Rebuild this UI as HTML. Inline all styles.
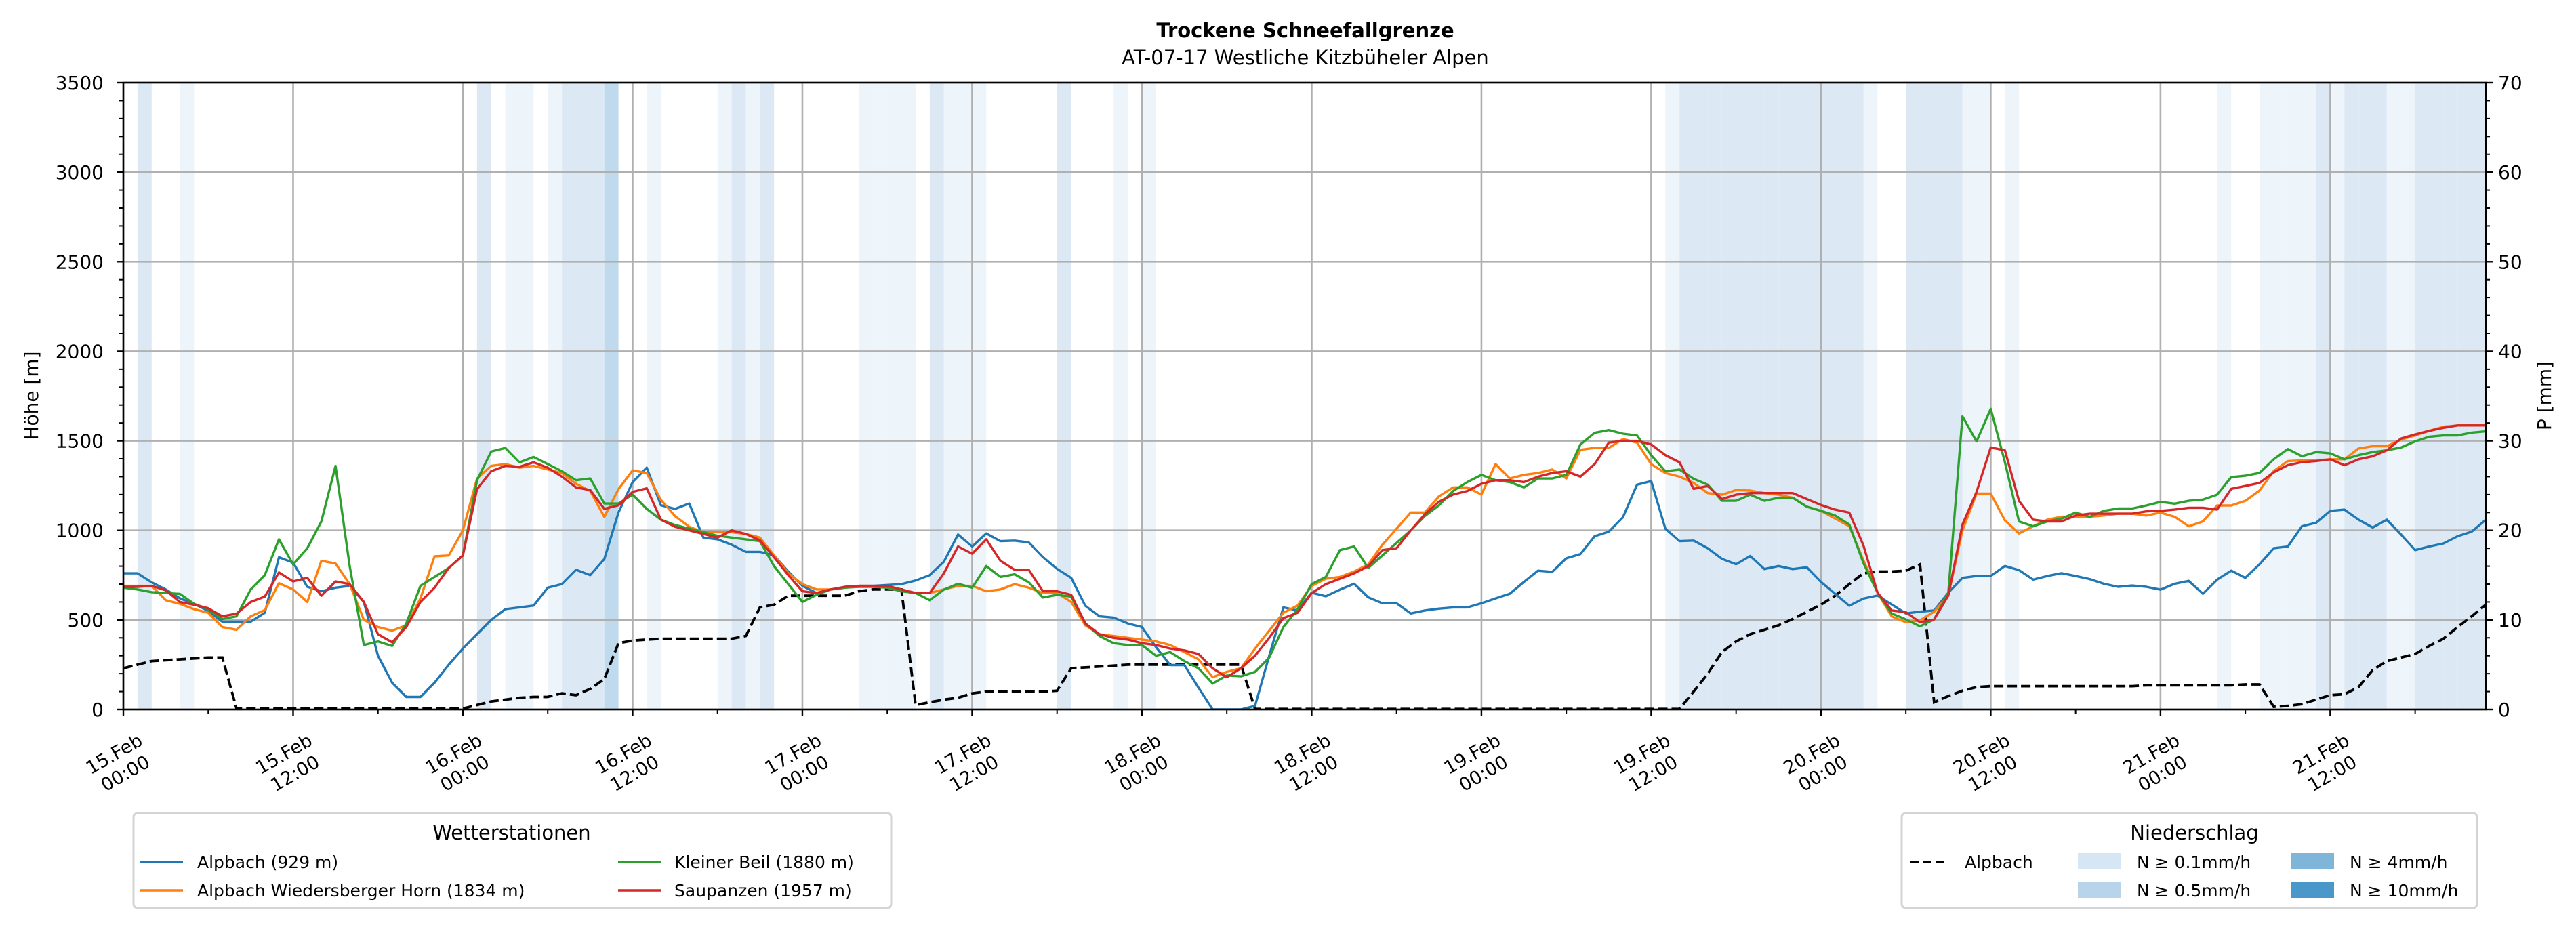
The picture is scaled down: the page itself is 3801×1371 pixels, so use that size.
<!DOCTYPE html>
<html><head><meta charset="utf-8"><style>
html,body{margin:0;padding:0;background:#fff}
svg{display:block;font-family:"DejaVu Sans","Liberation Sans",sans-serif}
</style></head><body>
<svg id="chart" width="3801" height="1371" viewBox="0 0 3801 1371" xmlns="http://www.w3.org/2000/svg">
<text x="1926" y="55" text-anchor="middle" font-size="29" font-weight="bold">Trockene Schneefallgrenze</text>
<text x="1926" y="95" text-anchor="middle" font-size="29">AT-07-17 Westliche Kitzbüheler Alpen</text>
<g id="bands"></g>
<g id="grid"></g>
<g id="series"></g>
<g id="axes"></g>
<text transform="translate(56,584) rotate(-90)" text-anchor="middle" font-size="28">Höhe [m]</text>
<text transform="translate(3764,584) rotate(-90)" text-anchor="middle" font-size="28">P [mm]</text>

<g>
<rect x="197" y="1200" width="1118" height="140" rx="6" fill="#fff" stroke="#d4d4d4" stroke-width="3"/>
<text x="755" y="1239" text-anchor="middle" font-size="29">Wetterstationen</text>
<g><line x1="207" y1="1272" x2="270" y2="1272" stroke="#1f77b4" stroke-width="3.5"/><text x="291" y="1281" font-size="25">Alpbach (929 m)</text></g>
<g><line x1="207" y1="1314" x2="270" y2="1314" stroke="#ff7f0e" stroke-width="3.5"/><text x="291" y="1323" font-size="25">Alpbach Wiedersberger Horn (1834 m)</text></g>
<g><line x1="912" y1="1272" x2="975" y2="1272" stroke="#2ca02c" stroke-width="3.5"/><text x="995" y="1281" font-size="25">Kleiner Beil (1880 m)</text></g>
<g><line x1="912" y1="1314" x2="975" y2="1314" stroke="#d62728" stroke-width="3.5"/><text x="995" y="1323" font-size="25">Saupanzen (1957 m)</text></g>
</g>

<g>
<rect x="2806" y="1200" width="849" height="140" rx="6" fill="#fff" stroke="#d4d4d4" stroke-width="3"/>
<text x="3238" y="1239" text-anchor="middle" font-size="29">Niederschlag</text>
<g><line x1="2818" y1="1272" x2="2874" y2="1272" stroke="#000" stroke-width="3.5" stroke-dasharray="13,6"/><text x="2899" y="1281" font-size="25">Alpbach</text></g>
<g><rect x="3066" y="1259" width="63" height="24" fill="#d6e6f4"/><text x="3153" y="1281" font-size="25">N ≥ 0.1mm/h</text></g>
<g><rect x="3066" y="1301" width="63" height="24" fill="#b8d4ea"/><text x="3153" y="1323" font-size="25">N ≥ 0.5mm/h</text></g>
<g><rect x="3381" y="1259" width="63" height="24" fill="#7fb5d9"/><text x="3467" y="1281" font-size="25">N ≥ 4mm/h</text></g>
<g><rect x="3381" y="1301" width="63" height="24" fill="#4a97c9"/><text x="3467" y="1323" font-size="25">N ≥ 10mm/h</text></g>
</g>
</svg>
<script>
// hourly data starting 15.Feb 00:00
const tickLabels = ["15.Feb|00:00","15.Feb|12:00","16.Feb|00:00","16.Feb|12:00","17.Feb|00:00","17.Feb|12:00","18.Feb|00:00","18.Feb|12:00","19.Feb|00:00","19.Feb|12:00","20.Feb|00:00","20.Feb|12:00","21.Feb|00:00","21.Feb|12:00"];
const yTicks = [0,500,1000,1500,2000,2500,3000,3500];
const y2Ticks = [0,10,20,30,40,50,60,70];
const alpbach = [760,760,710,670,620,590,550,490,490,490,540,850,820,685,660,680,690,600,300,150,70,70,150,250,340,420,500,560,570,580,680,700,780,750,840,1100,1270,1350,1140,1120,1150,960,950,920,880,880,860,770,690,650,670,680,
690,690,695,700,720,750,825,977,910,983,940,943,933,851,785,735,579,520,513,480,460,348,248,248,122,0,0,0,20,300,570,553,652,632,669,702,626,593,593,536,553,563,570,570,593,620,646,712,775,768,844,868,967,993,1073,1255,1275,1010,940,
943,900,841,811,857,784,801,784,794,712,646,579,619,636,586,536,546,553,652,735,745,745,801,778,725,745,761,745,728,702,685,692,685,669,702,718,646,725,775,735,811,900,910,1023,1043,1109,1116,1060,1016,1060,977,890,910,927,967,993,1060];
const wiedersberger = [690,690,690,610,590,560,540,460,445,520,555,705,670,600,830,815,700,500,460,440,470,620,855,860,1000,1290,1360,1370,1350,1360,1340,1320,1260,1220,1075,1230,1335,1320,1170,1080,1020,990,990,990,980,960,860,760,700,670,670,680,
690,690,680,660,650,650,670,690,690,660,670,700,680,650,650,600,470,420,410,400,390,380,360,320,280,180,210,230,340,440,540,580,690,730,740,770,810,920,1010,1100,1100,1190,1240,1240,1200,1370,1290,1310,1320,1340,1290,1450,1460,1460,1510,1490,1370,1320,1300,
1265,1208,1199,1225,1222,1208,1199,1182,1132,1109,1066,1023,834,652,520,487,497,546,636,1000,1205,1205,1056,983,1023,1060,1076,1076,1076,1083,1093,1093,1083,1099,1076,1023,1050,1139,1139,1165,1222,1331,1387,1391,1391,1397,1397,1457,1470,1470,1507,1530,1556,1579,1586,1589,1589];
const kleinerBeil = [680,670,655,650,645,590,560,505,520,670,750,950,810,900,1050,1360,800,360,380,355,480,690,740,790,860,1280,1440,1460,1380,1410,1370,1330,1280,1290,1150,1150,1200,1120,1060,1030,1010,990,970,960,950,940,800,700,600,640,670,680,
685,685,680,660,650,610,669,702,680,801,740,755,710,625,640,630,480,410,370,360,360,300,320,270,230,145,190,185,210,290,460,560,700,740,890,910,790,860,930,1000,1080,1140,1220,1270,1310,1280,1270,1240,1290,1290,1310,1480,1545,1560,1540,1530,1420,1330,1340,
1288,1255,1165,1165,1199,1165,1182,1182,1132,1109,1083,1033,818,652,536,503,464,503,652,1636,1497,1679,1381,1050,1023,1050,1066,1099,1076,1109,1122,1122,1139,1159,1149,1165,1172,1199,1298,1305,1321,1397,1454,1414,1437,1430,1397,1420,1437,1447,1463,1497,1523,1530,1530,1546,1553];
const saupanzen = [685,685,690,665,600,585,565,520,535,600,630,765,715,735,635,715,700,600,420,375,460,600,680,790,860,1230,1330,1360,1355,1380,1350,1300,1240,1225,1120,1140,1215,1235,1060,1020,1000,980,960,1000,980,945,850,750,660,650,670,685,
690,690,690,670,650,650,760,910,870,950,830,780,780,660,660,640,480,420,400,390,370,360,340,330,310,230,180,230,300,400,510,540,650,700,730,760,800,890,900,1000,1090,1160,1200,1220,1260,1280,1280,1270,1300,1320,1330,1300,1370,1490,1500,1500,1480,1420,1380,
1232,1248,1175,1199,1208,1208,1208,1208,1175,1142,1116,1099,917,652,553,543,487,503,636,1033,1215,1463,1447,1165,1060,1050,1050,1083,1093,1093,1093,1093,1106,1109,1116,1126,1126,1116,1232,1248,1265,1324,1364,1381,1387,1397,1364,1397,1414,1447,1513,1536,1556,1573,1586,1586,1586];
const precipAlpbach = [4.6,5.0,5.4,5.5,5.6,5.7,5.8,5.8,
0.1,0.1,0.1,0.1,0.1,0.1,0.1,0.1,0.1,0.1,0.1,0.1,0.1,0.1,0.1,0.1,0.1,
0.5,0.9,1.1,1.3,1.4,1.4,1.8,1.6,2.3,3.4,7.4,7.7,7.8,7.9,7.9,7.9,7.9,7.9,7.9,8.2,11.4,11.7,12.7,12.7,12.7,12.7,12.7,13.2,13.4,13.4,13.4,
0.5,0.8,1.1,1.3,1.8,2.0,2.0,2.0,2.0,2.0,2.1,4.6,4.7,4.8,4.9,5.0,5.0,5.0,5.0,5.0,5.0,5.0,5.0,5.0,
0.05,0.05,0.05,0.05,0.05,0.05,0.05,0.05,0.05,0.05,0.05,0.05,0.05,0.05,0.05,0.05,0.05,0.05,0.05,0.05,0.05,0.05,0.05,0.05,0.05,0.05,0.05,0.05,0.05,0.05,0.05,
2.0,4.0,6.4,7.6,8.4,8.9,9.4,10.1,10.9,11.7,12.7,14.0,15.2,15.4,15.4,15.5,16.2,
0.8,1.5,2.1,2.5,2.6,
2.6,2.6,2.6,2.6,2.6,2.6,2.6,2.6,2.6,2.6,2.7,2.7,2.7,2.7,2.7,2.7,2.7,2.8,2.8,
0.3,0.4,0.6,1.1,1.6,1.7,2.5,4.4,5.4,5.8,6.2,7.1,7.9,9.2,10.4,11.7];
// precipitation class per hour: 0 none, 1 >=0.1, 2 >=0.5, 3 >=4 (rows of 24 h)
const precipClass = [
0,2,0,0,1,0,0,0,0,0,0,0,0,0,0,0,0,0,0,0,0,0,0,0,
0,2,0,1,1,0,1,2,2,2,3,0,0,1,0,0,0,0,1,2,1,2,0,0,
0,0,0,0,1,1,1,1,0,2,1,1,1,0,0,0,0,0,2,0,0,0,1,0,
1,0,0,0,0,0,0,0,0,0,0,0,0,0,0,0,0,0,0,0,0,0,0,0,
0,0,0,0,0,0,0,0,0,0,0,0,0,1,2,2,2,2,2,2,2,2,2,2,
2,2,2,1,0,0,2,2,2,2,1,1,0,1,0,0,0,0,0,0,0,0,0,0,
0,0,0,0,1,0,0,1,1,1,1,2,1,2,2,2,1,1,2,2,2,2,2,2];

const NS='http://www.w3.org/2000/svg';
const X0=182, X1=3668, Y0=1047, Y1=122, HMAX=167;
function xs(h){return X0+(X1-X0)*h/HMAX;}
function ys(v){return Y0-(Y0-Y1)*v/3500;}
function ys2(p){return Y0-(Y0-Y1)*p/70;}
function mk(tag,attrs,parent){const e=document.createElementNS(NS,tag);for(const k in attrs)e.setAttribute(k,attrs[k]);parent.appendChild(e);return e;}

const bands=document.getElementById('bands');
const bandColors=['none','#edf4fa','#dce9f5','#bfdaec'];
precipClass.forEach((c,h)=>{
  if(!c) return;
  const r=mk('rect',{x:xs(h),y:Y1,width:Math.max(0,Math.min(xs(h+1),X1)-xs(h)),height:Y0-Y1,fill:bandColors[c]},bands);
  
  
});

const grid=document.getElementById('grid');
const axes=document.getElementById('axes');
yTicks.forEach(v=>{
  const y=ys(v);
  const gl=mk('line',{x1:X0,x2:X1,y1:y,y2:y,stroke:'#b0b0b0','stroke-width':2.6},grid);
  
  
  mk('line',{x1:X0-10,x2:X0,y1:y,y2:y,stroke:'#000','stroke-width':2.4},axes);
  const t=mk('text',{x:X0-29,y:y+10,'text-anchor':'end','font-size':28},axes);
  t.textContent=v;
  
  
});
for(let v=100;v<3500;v+=100){ if(v%500) mk('line',{x1:X0-6,x2:X0,y1:ys(v),y2:ys(v),stroke:'#000','stroke-width':2},axes); }
y2Ticks.forEach(p=>{
  const y=ys2(p);
  mk('line',{x1:X1,x2:X1+10,y1:y,y2:y,stroke:'#000','stroke-width':2.4},axes);
  const t=mk('text',{x:X1+18,y:y+10,'font-size':28},axes);
  t.textContent=p;
  
  
});
for(let p=2;p<70;p+=2){ if(p%10) mk('line',{x1:X1,x2:X1+6,y1:ys2(p),y2:ys2(p),stroke:'#000','stroke-width':2},axes); }
tickLabels.forEach((lab,i)=>{
  const h=i*12, x=xs(h);
  const gl=mk('line',{x1:x,x2:x,y1:Y1,y2:Y0,stroke:'#b0b0b0','stroke-width':2.6},grid);
  
  
  mk('line',{x1:x,x2:x,y1:Y0,y2:Y0+10,stroke:'#000','stroke-width':2.4},axes);
  mk('line',{x1:xs(h+6),x2:xs(h+6),y1:Y0,y2:Y0+6,stroke:'#000','stroke-width':2},axes);
  const parts=lab.split('|');
  const t=mk('text',{transform:`translate(${x-6},1126) rotate(-30)`,'text-anchor':'middle','font-size':27},axes);
  
  
  const a=mk('tspan',{x:0,y:-6},t); a.textContent=parts[0];
  const b=mk('tspan',{x:0,y:27},t); b.textContent=parts[1];
});
mk('rect',{x:X0,y:Y1,width:X1-X0,height:Y0-Y1,fill:'none',stroke:'#000','stroke-width':2.6},axes);

const series=document.getElementById('series');
const ser=[[alpbach,'#1f77b4','line-alpbach'],[wiedersberger,'#ff7f0e','line-wiedersberger-horn'],[kleinerBeil,'#2ca02c','line-kleiner-beil'],[saupanzen,'#d62728','line-saupanzen']];
const clip=mk('clipPath',{id:'plotclip'},mk('defs',{},series));
mk('rect',{x:X0,y:Y1,width:X1-X0,height:Y0-Y1},clip);
const pd=precipAlpbach.map((p,h)=>(h?'L':'M')+xs(h).toFixed(1)+','+ys2(p).toFixed(1)).join('');
const dl=mk('path',{d:pd,fill:'none',stroke:'#000','stroke-width':3.8,'stroke-dasharray':'14,6','clip-path':'url(#plotclip)'},series);


ser.forEach(([arr,col,name])=>{
  const d=arr.map((v,h)=>(h?'L':'M')+xs(h).toFixed(1)+','+ys(v).toFixed(1)).join('');
  const p=mk('path',{d:d,fill:'none',stroke:col,'stroke-width':3.4,'stroke-linejoin':'round','clip-path':'url(#plotclip)'},series);
  
  
});
</script>
</body></html>
